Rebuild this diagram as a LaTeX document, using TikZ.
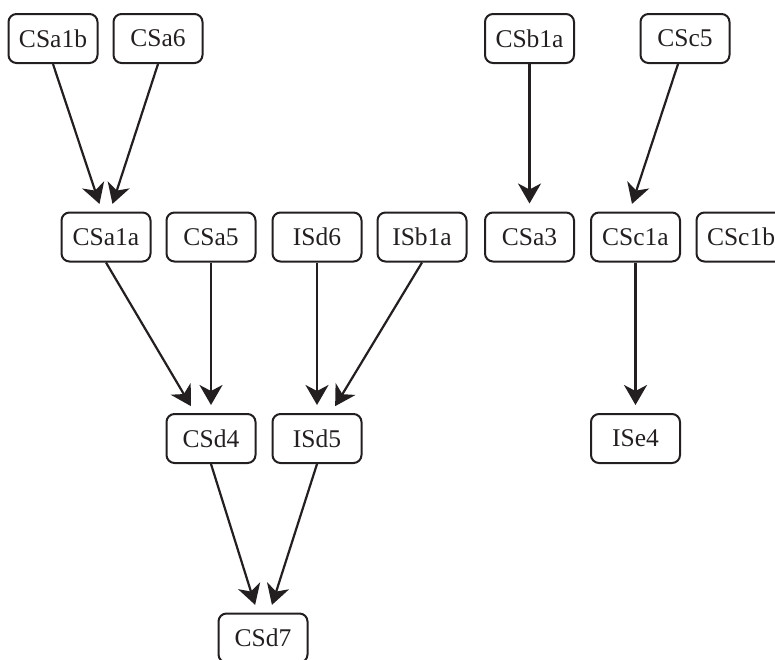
\documentclass[tikz,border=0pt]{standalone}
\usepackage{fontspec}
\setmainfont{Liberation Serif}
\usetikzlibrary{arrows.meta,positioning}
\definecolor{ink}{HTML}{231F20}
\tikzset{
  >={Stealth[length=20pt,width=23pt,inset=6pt]},
  block/.style={draw=ink, text=ink, line width=2pt, rectangle, rounded corners=8pt, minimum height=49pt, minimum width=89pt, align=center, font=\fontsize{25.5}{30}\selectfont},
  conn/.style={->, draw=ink, fill=ink, line width=2.2pt, shorten >=8pt},
}

\begin{document}
\begin{tikzpicture}[x=1pt, y=-1pt]
  \useasboundingbox (0,0) rectangle (775,659);
  \clip (0,0) rectangle (775,659);
  \node[block] (CSa1b) at (53,38.5) {CSa1b};
  \node[block] (CSa6) at (158,38.5) {CSa6};
  \node[block] (CSb1a) at (529.5,38.5) {CSb1a};
  \node[block] (CSc5) at (685,38.5) {CSc5};
  \node[block] (CSa1a) at (106,237) {CSa1a};
  \node[block] (CSa5) at (211,237) {CSa5};
  \node[block] (ISd6) at (317,237) {ISd6};
  \node[block] (ISb1a) at (422,237) {ISb1a};
  \node[block] (CSa3) at (529.5,237) {CSa3};
  \node[block] (CSc1a) at (635.5,237) {CSc1a};
  \node[block] (CSc1b) at (741,237) {CSc1b};
  \node[block] (CSd4) at (211,438.5) {CSd4};
  \node[block] (ISd5) at (317,438.5) {ISd5};
  \node[block] (ISe4) at (635.5,438.5) {ISe4};
  \node[block] (CSd7) at (263,638) {CSd7};
  \draw[conn] (CSa1b.south) -- ([xshift=-4pt]CSa1a.north);
  \draw[conn] (CSa6.south) -- ([xshift=4pt]CSa1a.north);
  \draw[conn] (CSb1a.south) -- (CSa3.north);
  \draw[conn] ([xshift=-7pt]CSc5.south) -- ([xshift=-6pt]CSc1a.north);
  \draw[conn] (CSa1a.south) -- ([xshift=-16pt]CSd4.north);
  \draw[conn] (CSa5.south) -- (CSd4.north);
  \draw[conn] (ISd6.south) -- (ISd5.north);
  \draw[conn] (ISb1a.south) -- ([xshift=14pt]ISd5.north);
  \draw[conn] (CSc1a.south) -- (ISe4.north);
  \draw[conn] (CSd4.south) -- ([xshift=-5.5pt]CSd7.north);
  \draw[conn] (ISd5.south) -- ([xshift=6.5pt]CSd7.north);
\end{tikzpicture}
\end{document}
